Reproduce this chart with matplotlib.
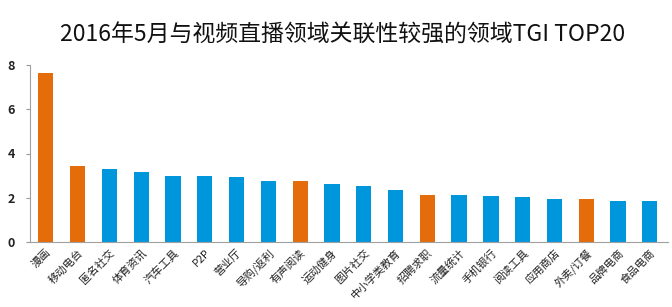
import matplotlib
matplotlib.use("Agg")
import matplotlib.pyplot as plt

plt.rcParams['font.family'] = ['Noto Sans CJK SC', 'DejaVu Sans']

title = "2016年5月与视频直播领域关联性较强的领域TGI TOP20"
categories = ["漫画", "移动电台", "匿名社交", "体育资讯", "汽车工具", "P2P", "营业厅",
              "导购/返利", "有声阅读", "运动健身", "图片社交", "中小学类教育", "招聘求职",
              "流量统计", "手机银行", "阅读工具", "应用商店", "外卖/订餐", "品牌电商", "食品电商"]
values = [7.63, 3.43, 3.32, 3.17, 2.98, 2.98, 2.92, 2.76, 2.76, 2.60, 2.51, 2.34,
          2.13, 2.12, 2.07, 2.02, 1.92, 1.92, 1.87, 1.87]
highlight = ["漫画", "移动电台", "有声阅读", "招聘求职", "外卖/订餐"]
yticks = [0, 2, 4, 6, 8]

ORANGE = "#E46C0A"
BLUE = "#0096DB"
colors = [ORANGE if c in highlight else BLUE for c in categories]

fig = plt.figure(figsize=(6.72, 3.07), dpi=100)
ax = fig.add_axes([0.045, 0.212, 0.949, 0.576])
x = list(range(len(categories)))
ax.bar(x, values, width=0.48, color=colors)
ax.set_xlim(-0.49, 19.57)
ax.set_ylim(0, 8)
ax.set_yticks(yticks)
ax.set_yticklabels([str(t) for t in yticks], fontsize=9, fontweight='bold', color='#222222')
ax.set_xticks(x)
ax.set_xticklabels(categories, rotation=45, ha='right', rotation_mode='anchor',
                   fontsize=7.8, color='#222222')
ax.tick_params(axis='x', length=0, pad=4)
ax.tick_params(axis='y', length=3, color='#999999', pad=8)
for s in ['top', 'right']:
    ax.spines[s].set_visible(False)
for s in ['left', 'bottom']:
    ax.spines[s].set_color('#A0A0A0')
    ax.spines[s].set_linewidth(0.8)

fig.text(0.51, 0.885, title, ha='center', va='center', fontsize=16.5,
         fontweight='medium', color='#111111')

fig.savefig("out.png", dpi=100)
